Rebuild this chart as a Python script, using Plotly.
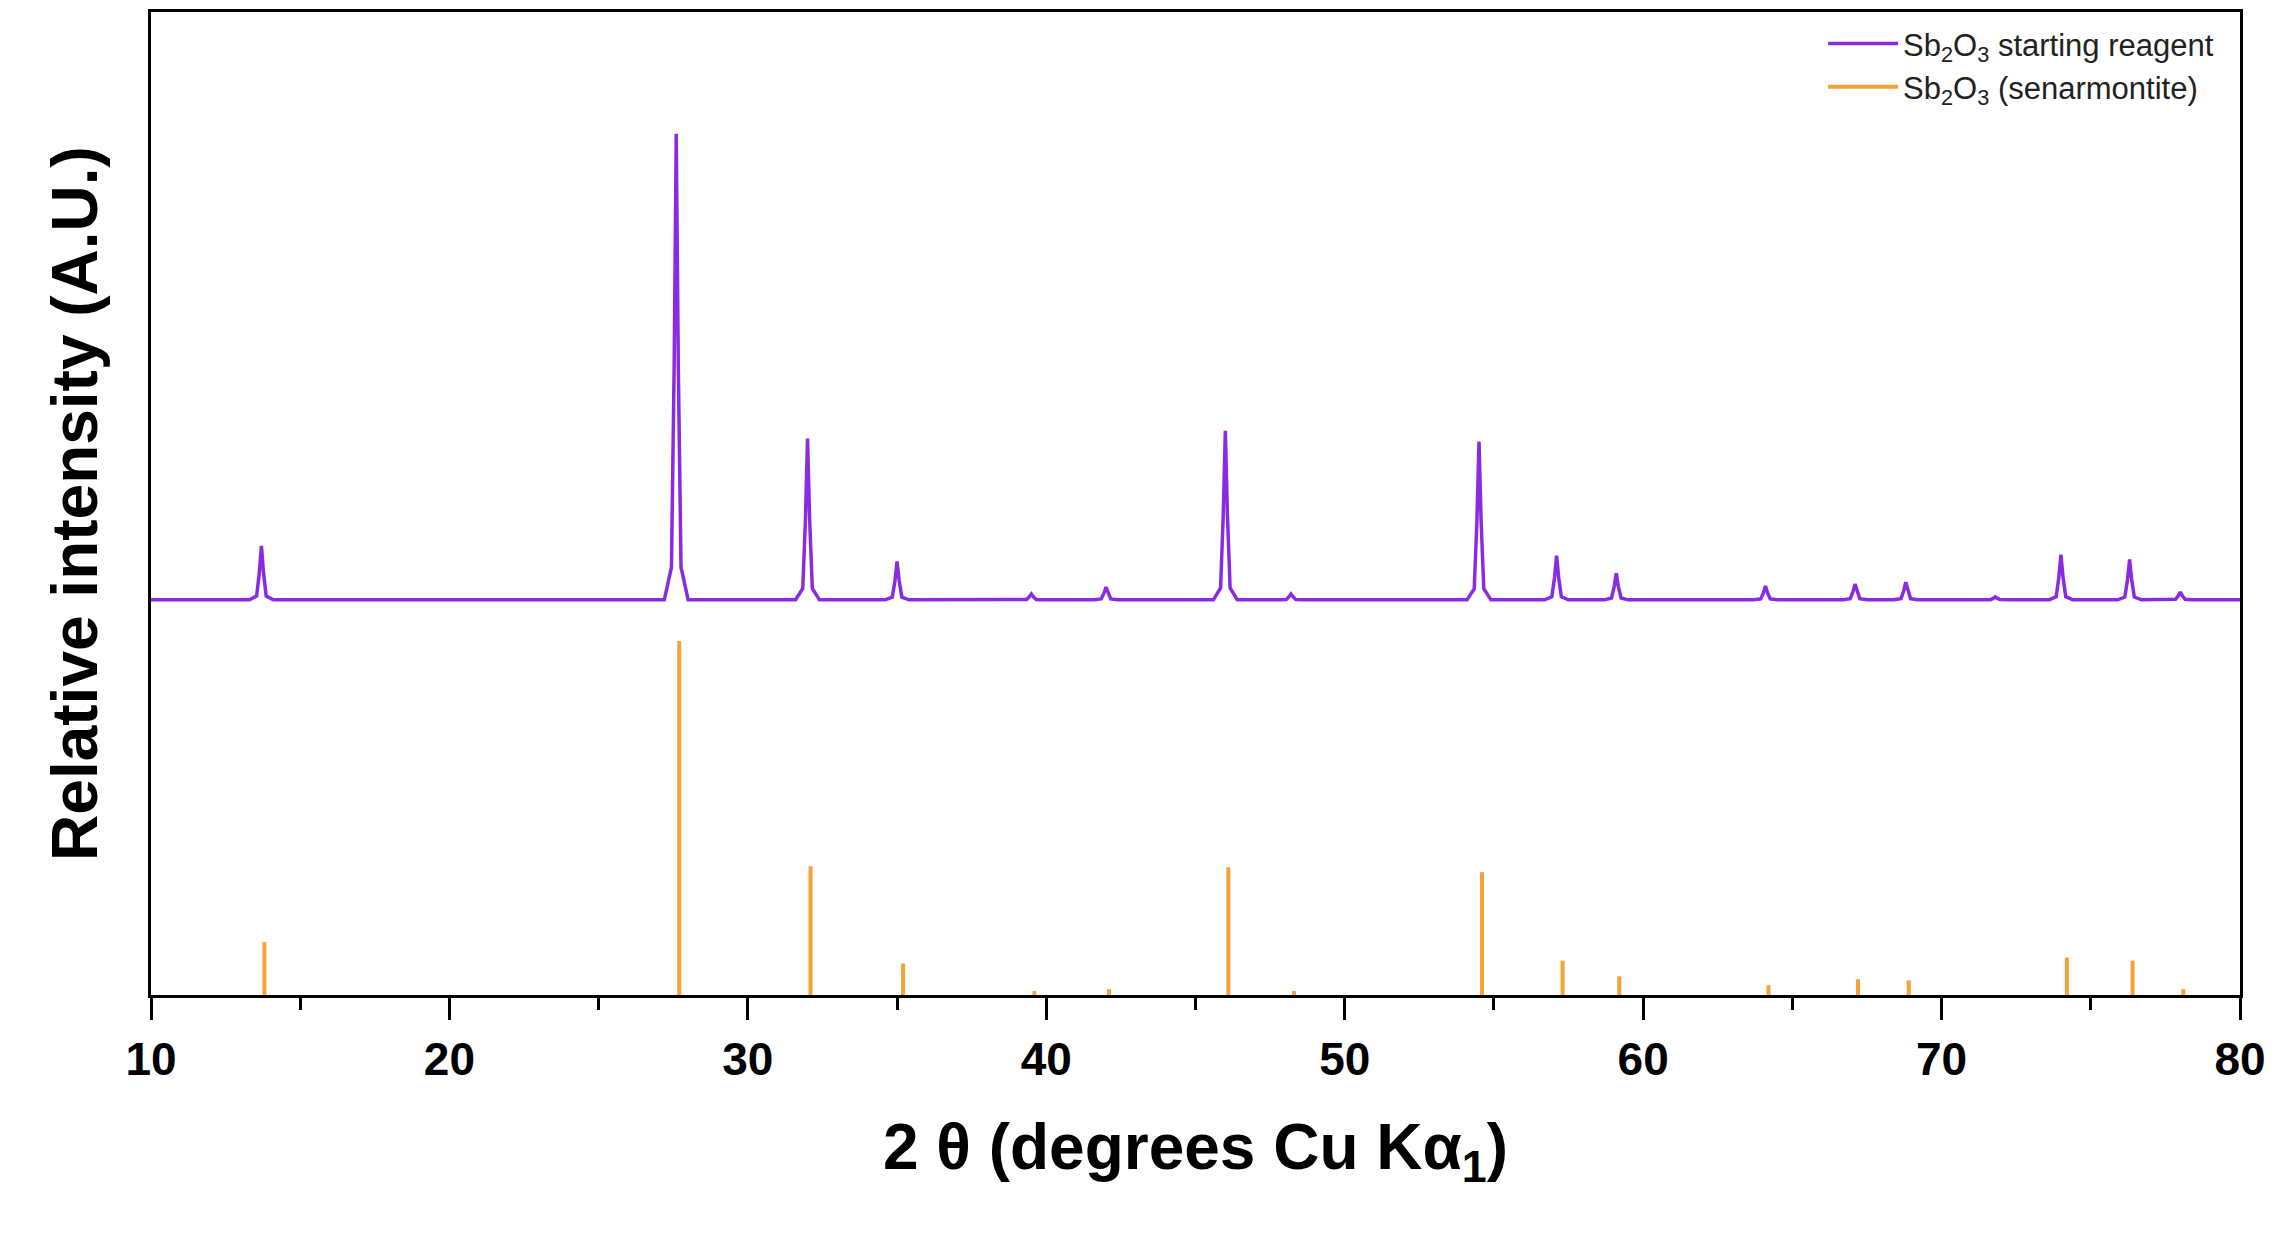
import plotly.graph_objects as go

# Measured pattern (Sb2O3 starting reagent): baseline and peak positions / peak tops
baseline = 40.2
peak_pos = [13.7, 27.6, 32.0, 35.0, 39.5, 42.0, 46.0, 48.2, 54.5, 57.1, 59.1, 64.1, 67.1, 68.8, 71.8, 74.0, 76.3, 78.0]
peak_top = [45.7, 87.6, 56.6, 44.1, 40.8, 41.5, 57.4, 40.8, 56.3, 44.7, 42.9, 41.6, 41.8, 42.0, 40.5, 44.8, 44.3, 41.0]

# Reference pattern (senarmontite) stick positions / heights
ref_pos = [13.8, 27.7, 32.1, 35.2, 39.6, 42.1, 46.1, 48.3, 54.6, 57.3, 59.2, 64.2, 67.2, 68.9, 74.2, 76.4, 78.1]
ref_h = [5.4, 36.0, 13.1, 3.2, 0.4, 0.6, 13.0, 0.4, 12.5, 3.5, 1.9, 1.0, 1.6, 1.5, 3.8, 3.5, 0.6]

x_start, x_end = 10, 80
# peak shape offsets (styling of the line through each peak)
offs = [-0.4, -0.16, -0.07, 0, 0.07, 0.16, 0.4]
frac = [0, 0.07, 0.5, 1, 0.5, 0.07, 0]

xs = [x_start]
ys = [baseline]
for p, t in zip(peak_pos, peak_top):
    for o, f in zip(offs, frac):
        xs.append(p + o)
        ys.append(baseline + f * (t - baseline))
xs.append(x_end)
ys.append(baseline)

sx, sy = [], []
for p, h in zip(ref_pos, ref_h):
    sx += [p, p, None]
    sy += [0, h, None]

purple = "#8A2BE2"
orange = "#F5A236"

fig = go.Figure()
fig.add_trace(go.Scatter(x=xs, y=ys, mode="lines", line=dict(color=purple, width=3.5),
                         name="Sb<sub>2</sub>O<sub>3</sub> starting reagent"))
fig.add_trace(go.Scatter(x=sx, y=sy, mode="lines", line=dict(color=orange, width=4),
                         name="Sb<sub>2</sub>O<sub>3</sub> (senarmontite)"))

fig.update_layout(
    width=2277, height=1259,
    margin=dict(l=143, r=45, t=1, b=272),
    paper_bgcolor="white", plot_bgcolor="white",
    font=dict(family="Liberation Sans, Arial, sans-serif", color="black"),
    legend=dict(x=0.99, y=0.995, xanchor="right", yanchor="top", itemwidth=70,
                font=dict(size=31, color="#222"), bgcolor="rgba(0,0,0,0)"),
    xaxis=dict(range=[x_start, x_end], tickvals=[10, 20, 30, 40, 50, 60, 70, 80],
               ticktext=["<b>%d</b>" % v for v in [10, 20, 30, 40, 50, 60, 70, 80]],
               ticks="outside", ticklen=22, tickwidth=3, tickcolor="black",
               minor=dict(tickvals=[15, 25, 35, 45, 55, 65, 75], ticks="outside", ticklen=12, tickwidth=3, tickcolor="black"),
               showline=True, linewidth=3, linecolor="black", mirror=True,
               showgrid=False, zeroline=False,
               tickfont=dict(size=46, color="black"),
               title=dict(text="<b>2 θ (degrees Cu Kα<sub>1</sub>)</b>", font=dict(size=64), standoff=40)),
    yaxis=dict(range=[0, 100], showticklabels=False, ticks="",
               showline=True, linewidth=3, linecolor="black", mirror=True,
               showgrid=False, zeroline=False,
               title=dict(text="<b>Relative intensity (A.U.)</b>", font=dict(size=64), standoff=30)),
)
fig.write_html("out.html")
